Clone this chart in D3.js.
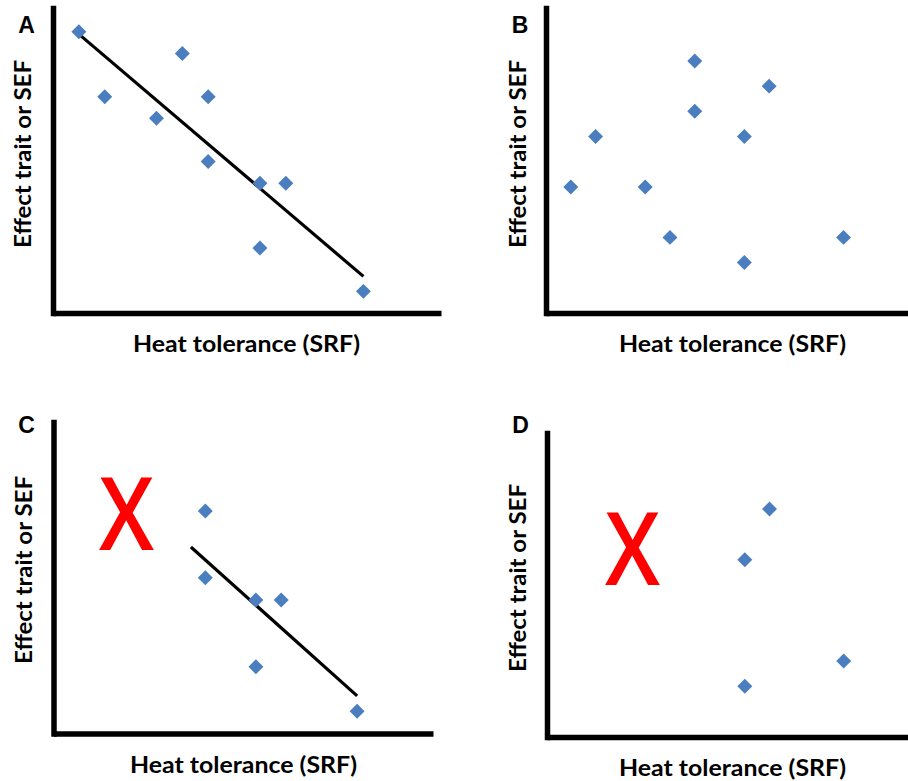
<!DOCTYPE html>
<html>
<head>
<meta charset="utf-8">
<script src="https://cdn.jsdelivr.net/npm/d3@7"></script>
<style>
  html, body { margin: 0; padding: 0; background: #ffffff; }
  svg { display: block; }
</style>
</head>
<body>
<svg id="chart" width="908" height="781"></svg>
<script>
// ---------------- data ----------------
const panelLetters = ["A", "B", "C", "D"];
const xAxisLabel = "Heat tolerance (SRF)";
const yAxisLabel = "Effect trait or SEF";

// Panel A: full set, negative relation
const pointsA = [[1,13],[2,10],[5,12],[4,9],[6,10],[6,7],[8,6],[9,6],[8,3],[12,1]];
// Panel B: full set, no relation
const pointsB = [[1,5],[2,7],[4,5],[5,3],[6,10],[6,8],[8,7],[8,2],[9,9],[12,3]];
// Panel C: subset of A (low-tolerance genotypes missing)
const pointsC = [[6,10],[6,7],[8,6],[9,6],[8,3],[12,1]];
// Panel D: subset of B
const pointsD = [[9,9],[8,7],[8,2],[12,3]];

// x-range over which the panel-A trend line is shown in each panel
const trendRangeA = [1, 12];
const trendRangeC = [5.43, 12];

// red "X" annotations (data units: x centre, baseline y)
const crossC = [2.89, 8.25];
const crossD = [3.46, 6.0];

// ---------------- helpers ----------------
function linearFit(pts) {
  const mx = d3.mean(pts, d => d[0]);
  const my = d3.mean(pts, d => d[1]);
  const sxy = d3.sum(pts, d => (d[0] - mx) * (d[1] - my));
  const sxx = d3.sum(pts, d => (d[0] - mx) ** 2);
  const b = sxy / sxx;
  return x => my + b * (x - mx);
}
const fitA = linearFit(pointsA);

const svg = d3.select("#chart");
const blue = "#4a7ebf";
const labelFont = "Lato, 'Open Sans', 'DejaVu Sans', sans-serif";

const panels = [
  { letter: panelLetters[0], pts: pointsA, box: {l: 53,  r: 441, t: 8,   b: 313},   xd: [0, 15],   yd: [0, 14.1],
    trend: trendRangeA, cross: null,
    letterPos: [26.5, 33], xlab: [246.5, 352], ylab: [31, 154] },
  { letter: panelLetters[1], pts: pointsB, box: {l: 546, r: 908, t: 8,   b: 313},   xd: [0, 14.6], yd: [0, 12.1],
    trend: null, cross: null,
    letterPos: [520, 33], xlab: [732.5, 352], ylab: [526, 154] },
  { letter: panelLetters[2], pts: pointsC, box: {l: 53.5, r: 433, t: 422, b: 733.5}, xd: [0, 15],   yd: [0, 14],
    trend: trendRangeC, cross: crossC,
    letterPos: [26.5, 433], xlab: [243.5, 773], ylab: [32, 570] },
  { letter: panelLetters[3], pts: pointsD, box: {l: 547, r: 908, t: 433, b: 737},   xd: [0, 14.6], yd: [0, 12],
    trend: null, cross: crossD,
    letterPos: [520.5, 433], xlab: [732.5, 776], ylab: [526, 578] }
];

const diamond = d3.symbol().type(d3.symbolSquare).size(112);

panels.forEach(p => {
  const x = d3.scaleLinear().domain(p.xd).range([p.box.l, p.box.r]);
  const y = d3.scaleLinear().domain(p.yd).range([p.box.b, p.box.t]);
  const g = svg.append("g");

  // axes (no ticks)
  const ax = g.append("g").attr("transform", `translate(0,${p.box.b})`)
    .call(d3.axisBottom(x).ticks(0).tickSizeOuter(0));
  const ay = g.append("g").attr("transform", `translate(${p.box.l},0)`)
    .call(d3.axisLeft(y).ticks(0).tickSizeOuter(0));
  [ax, ay].forEach(a => a.select(".domain")
    .attr("stroke", "#000").attr("stroke-width", 5.5).attr("stroke-linecap", "square"));
  ax.select(".domain").attr("stroke-linecap", "butt");

  // trend line (panel A regression)
  if (p.trend) {
    const line = d3.line().x(d => x(d)).y(d => y(fitA(d)));
    g.append("path").datum(p.trend).attr("d", line)
      .attr("fill", "none").attr("stroke", "#000").attr("stroke-width", 3.2);
  }

  // points
  g.selectAll(".pt").data(p.pts).join("path")
    .attr("class", "pt")
    .attr("d", diamond)
    .attr("transform", d => `translate(${x(d[0])},${y(d[1])}) rotate(45)`)
    .attr("fill", blue);

  // red X annotation
  if (p.cross) {
    g.append("text")
      .attr("x", x(p.cross[0])).attr("y", y(p.cross[1]))
      .attr("text-anchor", "middle")
      .attr("font-family", "'Open Sans', 'Liberation Sans', sans-serif")
      .attr("font-weight", 600)
      .attr("font-size", 101)
      .attr("textLength", 55).attr("lengthAdjust", "spacingAndGlyphs")
      .attr("fill", "#ff0000")
      .text("X");
  }

  // panel letter
  g.append("text")
    .attr("x", p.letterPos[0]).attr("y", p.letterPos[1])
    .attr("text-anchor", "middle")
    .attr("font-family", "'Liberation Sans', Arial, sans-serif")
    .attr("font-weight", "bold").attr("font-size", 23)
    .text(p.letter);

  // x label
  g.append("text")
    .attr("x", p.xlab[0]).attr("y", p.xlab[1])
    .attr("text-anchor", "middle")
    .attr("font-family", labelFont).attr("font-weight", "bold").attr("font-size", 23)
    .attr("textLength", 227).attr("lengthAdjust", "spacingAndGlyphs")
    .text(xAxisLabel);

  // y label
  g.append("text")
    .attr("transform", `translate(${p.ylab[0]},${p.ylab[1]}) rotate(-90)`)
    .attr("text-anchor", "middle")
    .attr("font-family", labelFont).attr("font-weight", "bold").attr("font-size", 23)
    .attr("textLength", 188).attr("lengthAdjust", "spacingAndGlyphs")
    .text(yAxisLabel);
});
</script>
</body>
</html>
